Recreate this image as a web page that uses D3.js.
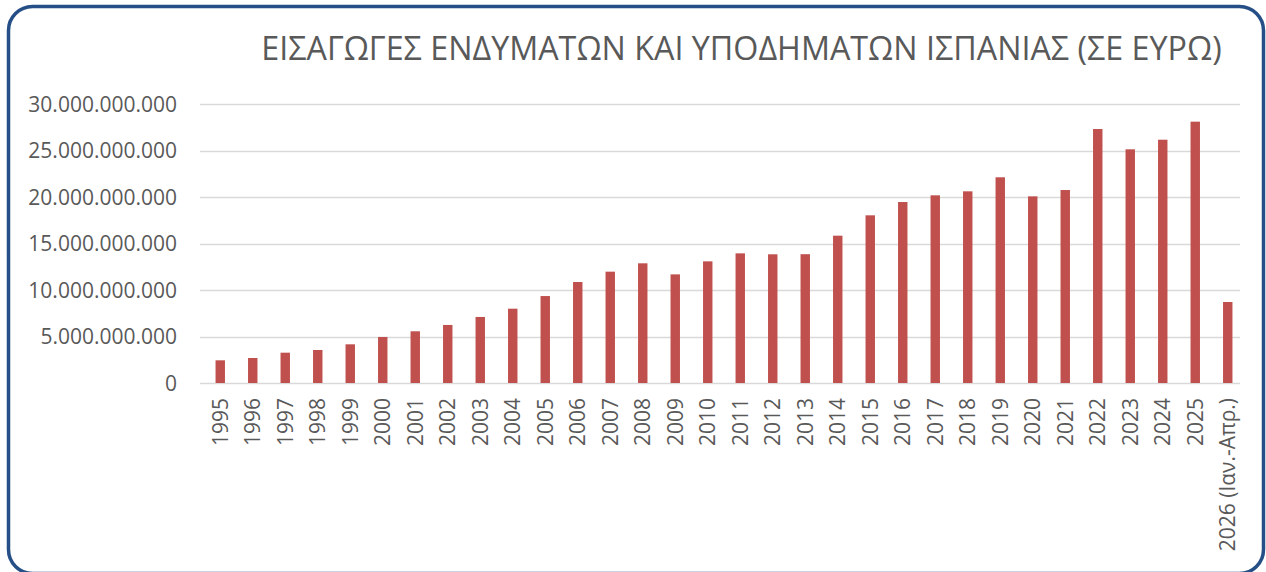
<!DOCTYPE html>
<html>
<head>
<meta charset="utf-8">
<script src="https://cdn.jsdelivr.net/npm/d3@7"></script>
<style>
  html, body { margin: 0; padding: 0; background: #ffffff; }
  svg { display: block; }
</style>
</head>
<body>
<svg id="chart" width="1266" height="572"></svg>
<script>
const title = "ΕΙΣΑΓΩΓΕΣ ΕΝΔΥΜΑΤΩΝ ΚΑΙ ΥΠΟΔΗΜΑΤΩΝ ΙΣΠΑΝΙΑΣ (ΣΕ ΕΥΡΩ)";
const categories = ["1995","1996","1997","1998","1999","2000","2001","2002","2003","2004",
  "2005","2006","2007","2008","2009","2010","2011","2012","2013","2014","2015","2016",
  "2017","2018","2019","2020","2021","2022","2023","2024","2025","2026 (Ιαν.-Απρ.)"];
const values = [2440000000, 2690000000, 3260000000, 3550000000, 4160000000, 4950000000,
  5560000000, 6240000000, 7100000000, 7990000000, 9350000000, 10860000000, 11970000000,
  12870000000, 11680000000, 13080000000, 13940000000, 13840000000, 13850000000,
  15840000000, 18030000000, 19460000000, 20180000000, 20610000000, 22120000000,
  20070000000, 20750000000, 27310000000, 25130000000, 26160000000, 28100000000,
  8710000000];
const yTicks = [0, 5000000000, 10000000000, 15000000000, 20000000000, 25000000000, 30000000000];

const svg = d3.select("#chart");
const font = "'Open Sans', 'Noto Sans', 'DejaVu Sans', sans-serif";
const textColor = "#595959";

// frame (bottom edge falls just outside the picture)
svg.append("rect")
  .attr("x", 8.5).attr("y", 6.5)
  .attr("width", 1255).attr("height", 567)
  .attr("rx", 24).attr("ry", 24)
  .attr("fill", "#ffffff")
  .attr("stroke", "#254f86").attr("stroke-width", 3.5);

const x = d3.scaleBand().domain(categories).range([204, 1244])
  .paddingInner(0.71).paddingOuter(0.355);
const y = d3.scaleLinear().domain([0, 30000000000]).range([383, 104]);
const gridX0 = 200, gridX1 = 1240;

const locale = d3.formatLocale({decimal: ",", thousands: ".", grouping: [3], currency: ["€", ""]});
const fmt = locale.format(",.0f");

// gridlines
svg.append("g").selectAll("line").data(yTicks).join("line")
  .attr("x1", gridX0).attr("x2", gridX1)
  .attr("y1", d => Math.round(y(d)) + 0.5).attr("y2", d => Math.round(y(d)) + 0.5)
  .attr("stroke", "#d9d9d9").attr("stroke-width", 1.5);

// y labels
svg.append("g").selectAll("text").data(yTicks).join("text")
  .attr("x", 177).attr("y", d => y(d))
  .attr("dy", "0.36em")
  .attr("text-anchor", "end")
  .attr("font-family", font).attr("font-size", 21)
  .attr("fill", textColor)
  .text(d => fmt(d));

// bars
svg.append("g").selectAll("rect").data(values).join("rect")
  .attr("x", (d, i) => x(categories[i]))
  .attr("width", x.bandwidth())
  .attr("y", d => y(d))
  .attr("height", d => y(0) - y(d))
  .attr("fill", "#c0504d");

// x labels
svg.append("g").selectAll("text").data(categories).join("text")
  .attr("transform", d => `translate(${x(d) + x.bandwidth() / 2},398) rotate(-90)`)
  .attr("dy", "0.36em")
  .attr("text-anchor", "end")
  .attr("font-family", font).attr("font-size", 21)
  .attr("fill", textColor)
  .text(d => d);

// title
const t = svg.append("text")
  .attr("x", 741.5).attr("y", 60)
  .attr("text-anchor", "middle")
  .attr("font-family", font).attr("font-size", 30)
  .attr("fill", textColor)
  .text(title);
const w = t.node().getComputedTextLength();
if (w > 0) t.attr("font-size", 30 * 961 / w);
</script>
</body>
</html>
